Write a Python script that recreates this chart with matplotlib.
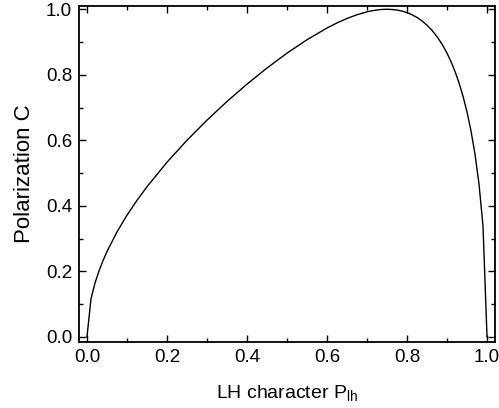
import matplotlib
matplotlib.use("Agg")
import matplotlib.pyplot as plt
from matplotlib.ticker import MultipleLocator

plt.rcParams['font.family'] = ['Liberation Sans', 'DejaVu Sans']

p_lh = [0.0, 0.01, 0.02, 0.03, 0.04, 0.05, 0.075, 0.1, 0.125, 0.15, 0.2, 0.25,
        0.3, 0.35, 0.4, 0.45, 0.5, 0.55, 0.6, 0.625, 0.65, 0.675, 0.7, 0.7125,
        0.725, 0.7375, 0.75, 0.7625, 0.775, 0.7875, 0.8, 0.8125, 0.825, 0.8375,
        0.85, 0.8625, 0.875, 0.8875, 0.9, 0.91, 0.92, 0.93, 0.94, 0.95, 0.96,
        0.97, 0.98, 0.99, 1.0]
polarization = [0.0, 0.1157, 0.1638, 0.2010, 0.2325, 0.2603, 0.3201, 0.3712,
                0.4166, 0.4581, 0.5329, 0.6000, 0.6614, 0.7184, 0.7714, 0.8206,
                0.8660, 0.9070, 0.9428, 0.9583, 0.9719, 0.9833, 0.9922, 0.9955,
                0.9979, 0.9995, 1.0000, 0.9994, 0.9976, 0.9945, 0.9897, 0.9833,
                0.9750, 0.9645, 0.9515, 0.9356, 0.9165, 0.8936, 0.8660, 0.8401,
                0.8102, 0.7753, 0.7345, 0.6863, 0.6285, 0.5575, 0.4663, 0.3379,
                0.0]

fig = plt.figure(figsize=(4.99, 4.08), dpi=100)
ax = fig.add_axes([0.1583, 0.1618, 0.992 - 0.1583, 0.9853 - 0.1618])
ax.plot(p_lh, polarization, color='black', lw=1.0)

ax.set_xlim(-0.02, 1.02)
ax.set_ylim(-0.016, 1.01)
ax.xaxis.set_major_locator(MultipleLocator(0.2))
ax.xaxis.set_minor_locator(MultipleLocator(0.1))
ax.yaxis.set_major_locator(MultipleLocator(0.2))
ax.yaxis.set_minor_locator(MultipleLocator(0.1))
ax.xaxis.set_major_formatter(plt.FormatStrFormatter('%.1f'))
ax.yaxis.set_major_formatter(plt.FormatStrFormatter('%.1f'))
ax.tick_params(which='both', direction='in', top=True, right=True, labelsize=13.5, width=1.0)
ax.tick_params(which='major', length=5, pad=5)
ax.tick_params(which='minor', length=3)
for s in ax.spines.values():
    s.set_linewidth(1.3)

ax.set_xlabel(r'LH character P$_{\mathregular{lh}}$', fontsize=14, labelpad=13)
ax.set_ylabel('Polarization C', fontsize=16, labelpad=8)

fig.savefig('out.png', dpi=100)
